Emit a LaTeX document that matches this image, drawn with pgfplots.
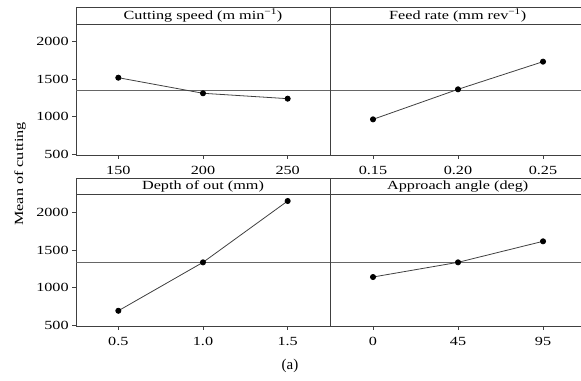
\documentclass[border=0pt]{standalone}
\usepackage{fontspec}
\setmainfont[FakeStretch=1.3]{Liberation Serif}
\newfontfamily\plainserif{Liberation Serif}
\usepackage{pgfplots}
\pgfplotsset{compat=1.18}
\definecolor{frame}{gray}{0.25}
\definecolor{refl}{gray}{0.4}
\definecolor{dataline}{gray}{0.25}
\tikzset{strip/.style={frame, line width=0.8pt}}
\begin{document}
\fontsize{12.5}{14}\selectfont
\begin{tikzpicture}
\path (0bp,0bp) rectangle (581bp,381bp);
\pgfplotsset{
  panel/.style={
    scale only axis, anchor=south west,
    xtick={0,1,2},
    ytick={500,1000,1500,2000},
    axis line style={frame, line width=0.8pt},
    tick style={frame, line width=0.6pt},
    tick align=outside, major tick length=4bp,
    tick pos=left, clip=false,
    tick label style={font=\fontsize{12.5}{14}\selectfont},
    /pgf/number format/assume math mode=true,
    /pgf/number format/1000 sep={},
    yticklabel style={xshift=1bp},
    xticklabel style={yshift=-3bp},
  },
  leftpanel/.style={panel, width=254bp, xmin=-0.5, xmax=2.5},
  rightpanel/.style={panel, width=250.5bp, xmin=-0.506, xmax=2.441, ytick=\empty,
    axis y line*=left},
  dat/.style={dataline, line width=0.8pt, mark=*, mark size=2.6pt, mark options={black, fill=black}},
  ref/.style={refl, line width=0.7pt, forget plot},
}
% top-left
\begin{axis}[leftpanel, at={(76bp,226bp)}, height=131bp, ymin=487, ymax=2236,
  xticklabels={150,200,250}]
\addplot[ref] coordinates {(-0.5,1346) (2.5,1346)};
\addplot[dat] coordinates {(0,1519) (1,1311) (2,1239)};
\draw[strip] (rel axis cs:0,1) -- (rel axis cs:0,1.13) -- (rel axis cs:1,1.13) -- (rel axis cs:1,1);
\node at (rel axis cs:0.5,1.065) {Cutting speed (m min\textsuperscript{−1})};
\end{axis}
% top-right
\begin{axis}[rightpanel, at={(330bp,226bp)}, height=131bp, ymin=487, ymax=2236,
  xticklabels={0.15,0.20,0.25}]
\addplot[ref] coordinates {(-0.506,1346) (2.441,1346)};
\addplot[dat] coordinates {(0,963) (1,1364) (2,1733)};
\draw[strip] (rel axis cs:0,0) -- (rel axis cs:0,1.13) -- (rel axis cs:1,1.13);
\draw[strip] (rel axis cs:0,1) -- (rel axis cs:1,1);
\draw[strip] (rel axis cs:0,0) -- (rel axis cs:1,0);
\node at (rel axis cs:0.51,1.065) {Feed rate (mm rev\textsuperscript{−1})};
\end{axis}
% bottom-left
\begin{axis}[leftpanel, at={(76bp,55bp)}, height=132bp, ymin=491, ymax=2243,
  xticklabels={0.5,1.0,1.5}]
\addplot[ref] coordinates {(-0.5,1340) (2.5,1340)};
\addplot[dat] coordinates {(0,693) (1,1336) (2,2150)};
\draw[strip] (rel axis cs:0,1) -- (rel axis cs:0,1.12) -- (rel axis cs:1,1.12) -- (rel axis cs:1,1);
\node at (rel axis cs:0.5,1.06) {Depth of out (mm)};
\end{axis}
% bottom-right
\begin{axis}[rightpanel, at={(330bp,55bp)}, height=132bp, ymin=491, ymax=2243,
  xticklabels={0,45,95}]
\addplot[ref] coordinates {(-0.506,1340) (2.441,1340)};
\addplot[dat] coordinates {(0,1141) (1,1336) (2,1615)};
\draw[strip] (rel axis cs:0,0) -- (rel axis cs:0,1.12) -- (rel axis cs:1,1.12);
\draw[strip] (rel axis cs:0,1) -- (rel axis cs:1,1);
\draw[strip] (rel axis cs:0,0) -- (rel axis cs:1,0);
\node at (rel axis cs:0.51,1.06) {Approach angle (deg)};
\end{axis}
\node[rotate=90] at (20bp,207bp) {Mean of cutting};
\node at (290bp,15bp) {\plainserif\fontsize{15}{17}\selectfont (a)};
\end{tikzpicture}
\end{document}
